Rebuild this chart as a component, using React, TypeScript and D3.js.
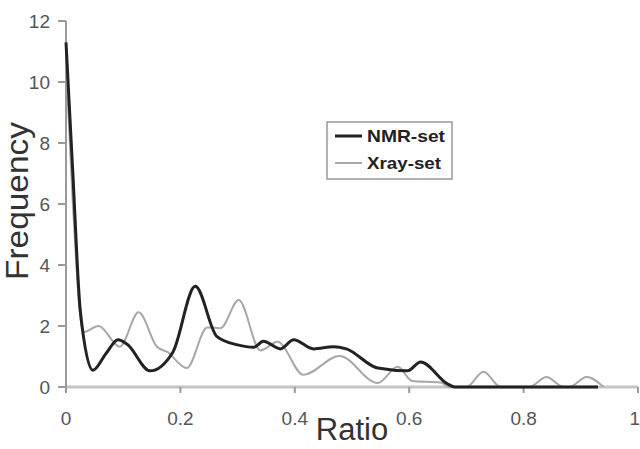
import React from "react";
import * as d3 from "d3";

const xTicks = [0, 0.2, 0.4, 0.6, 0.8, 1];
const xTickLabels = ["0", "0.2", "0.4", "0.6", "0.8", "1"];
const yTicks = [0, 2, 4, 6, 8, 10, 12];

const nmrRatio = [0, 0.012, 0.025, 0.047, 0.07, 0.091, 0.107, 0.147, 0.187, 0.226, 0.264, 0.3, 0.328, 0.345, 0.375, 0.398, 0.433, 0.468, 0.49, 0.545, 0.597, 0.62, 0.667, 0.68, 0.93];
const nmrFreq = [11.3, 7, 2.5, 0.55, 1.1, 1.55, 1.4, 0.53, 1.15, 3.3, 1.65, 1.38, 1.3, 1.5, 1.25, 1.55, 1.25, 1.32, 1.25, 0.62, 0.53, 0.82, 0.1, 0, 0];

const xrayRatio = [0, 0.012, 0.03, 0.057, 0.094, 0.127, 0.159, 0.177, 0.211, 0.247, 0.27, 0.302, 0.34, 0.37, 0.415, 0.478, 0.545, 0.58, 0.605, 0.655, 0.67, 0.7, 0.73, 0.76, 0.81, 0.84, 0.87, 0.88, 0.91, 0.94];
const xrayFreq = [10.6, 6, 1.8, 2.0, 1.32, 2.45, 1.32, 1.15, 0.62, 1.95, 1.93, 2.85, 1.2, 1.48, 0.4, 1.02, 0.13, 0.66, 0.2, 0.15, 0, 0, 0.5, 0, 0, 0.33, 0, 0, 0.33, 0];

const seriesNames = ["NMR-set", "Xray-set"];

export default function App() {
  const W = 640, H = 449;
  const x = d3.scaleLinear().domain([0, 1]).range([66, 638]);
  const y = d3.scaleLinear().domain([0, 12]).range([387, 21]);
  const line = d3
    .line<[number, number]>()
    .x((d) => x(d[0]))
    .y((d) => y(d[1]))
    .curve(d3.curveMonotoneX);
  const nmr = nmrRatio.map((r, i) => [r, nmrFreq[i]] as [number, number]);
  const xray = xrayRatio.map((r, i) => [r, xrayFreq[i]] as [number, number]);
  const font = "'Liberation Sans', Arial, sans-serif";
  return (
    <svg width={W} height={H} style={{ position: "absolute", left: 0, top: 0, background: "#fff" }} fontFamily={font}>
      {/* axes */}
      <line x1={x(0)} x2={x(1)} y1={y(0)} y2={y(0)} stroke="#c4c4c4" strokeWidth={3} />
      <line x1={x(0)} x2={x(0)} y1={y(12)} y2={y(0)} stroke="#9a9a9a" strokeWidth={2} />
      {yTicks.map((t) => (
        <g key={"y" + t}>
          <line x1={x(0) - 8} x2={x(0)} y1={y(t)} y2={y(t)} stroke="#9a9a9a" strokeWidth={2} />
          <text x={50} y={y(t) + 7} textAnchor="end" fontSize={19} fill="#555">{t}</text>
        </g>
      ))}
      {xTicks.map((t, i) => (
        <g key={"x" + t}>
          <line x1={x(t)} x2={x(t)} y1={y(0)} y2={y(0) + 6} stroke="#9a9a9a" strokeWidth={2} />
          <text x={i === 5 ? 640 : x(t)} y={425} textAnchor={i === 5 ? "end" : "middle"} fontSize={19} fill="#555">{xTickLabels[i]}</text>
        </g>
      ))}
      {/* series */}
      <path d={line(xray) || ""} fill="none" stroke="#a8a8a8" strokeWidth={2} />
      <path d={line(nmr) || ""} fill="none" stroke="#222" strokeWidth={3} />
      {/* axis titles */}
      <text x={352} y={440} textAnchor="middle" fontSize={31} fill="#333">Ratio</text>
      <text transform="translate(28,201) rotate(-90)" textAnchor="middle" fontSize={31} fill="#333" textLength={158} lengthAdjust="spacingAndGlyphs">Frequency</text>
      {/* legend */}
      <rect x={327} y={122} width={125} height={57} fill="#fff" stroke="#999" strokeWidth={1.5} />
      <line x1={335} x2={362} y1={136} y2={136} stroke="#222" strokeWidth={3} />
      <line x1={335} x2={362} y1={163} y2={163} stroke="#a8a8a8" strokeWidth={2} />
      <text x={367} y={142} fontSize={17} fontWeight="bold" fill="#222" textLength={78} lengthAdjust="spacingAndGlyphs">{seriesNames[0]}</text>
      <text x={367} y={169} fontSize={17} fontWeight="bold" fill="#222" textLength={74} lengthAdjust="spacingAndGlyphs">{seriesNames[1]}</text>
    </svg>
  );
}
